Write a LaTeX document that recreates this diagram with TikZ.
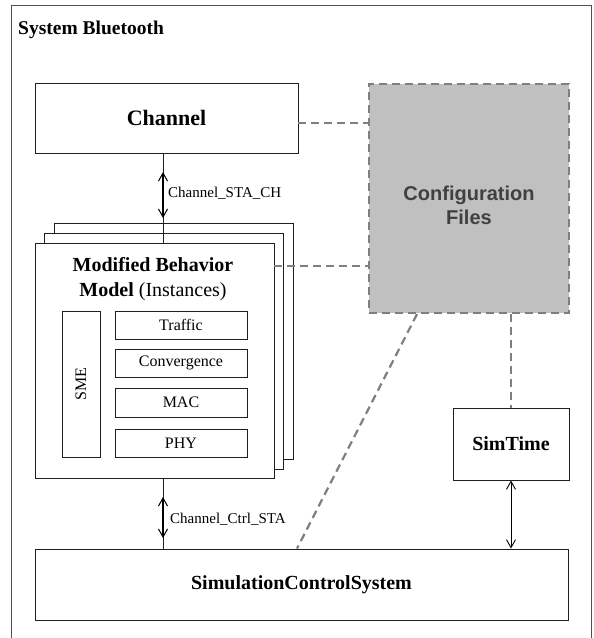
\documentclass[tikz,border=0pt]{standalone}
\usepackage{fontspec}
\setmainfont{Liberation Serif}
\newfontfamily\arialfont{Liberation Sans}
\usetikzlibrary{arrows.meta}
\definecolor{dgray}{HTML}{7F7F7F}
\definecolor{cfgfill}{HTML}{C0C0C0}
\definecolor{cfgtext}{HTML}{404040}
\definecolor{framec}{HTML}{505050}
\begin{document}
\begin{tikzpicture}[x=1pt,y=-1pt,
  box/.style={draw=black!88, line width=0.9pt, fill=white, inner sep=0pt},
  sub/.style={box, minimum width=132pt, minimum height=28pt, font=\fontsize{16}{18}\selectfont},
  big/.style={font=\fontsize{20}{24}\selectfont\bfseries},
  dashln/.style={draw=dgray, line width=2.2pt, dash pattern=on 8pt off 5pt},
  thinln/.style={draw=black!88, line width=0.9pt},
  biarrow/.style={draw=black, line width=1.8pt, {Straight Barb[length=8pt,width=9pt,line width=1pt]}-{Straight Barb[length=8pt,width=9pt,line width=1pt]}},
  thinarrow/.style={draw=black, line width=0.9pt, {Straight Barb[length=8pt,width=9pt]}-{Straight Barb[length=8pt,width=9pt]}},
  lbl/.style={font=\fontsize{15}{17}\selectfont, anchor=west, inner sep=0pt}
]
\useasboundingbox (0,0) rectangle (594,638);
\clip (0,0) rectangle (594,638);
\fill[white] (0,0) rectangle (594,638);
% outer frame
\draw[draw=framec, line width=0.9pt] (11,5) rectangle (591,700);
\node[anchor=west, inner sep=0pt, font=\fontsize{19.5}{22}\selectfont\bfseries] (title) at (18,30) {System Bluetooth};

% Channel
\node[box, minimum width=263pt, minimum height=70pt, font=\fontsize{22}{26}\selectfont\bfseries] (ch) at (166.5,118) {Channel};

% stacked instances
\node[box, minimum width=239pt, minimum height=236pt] (back) at (173.5,341) {};
\node[box, minimum width=239pt, minimum height=236pt] (mid) at (163.5,351) {};
\node[box, minimum width=239pt, minimum height=235pt] (front) at (154.5,360.5) {};
\node[align=center, font=\fontsize{20}{25}\selectfont, inner sep=0pt] (mtitle) at (153,279) {\textbf{Modified Behavior}\\\textbf{Model} (Instances)};

\node[box, minimum width=38pt, minimum height=146pt] (sme) at (81,384) {};
\node[rotate=90, font=\fontsize{16}{18}\selectfont, inner sep=0pt] (smet) at (sme.center) {SME};
\node[sub] (traffic) at (181,325) {Traffic};
\node[sub] (conv) at (181,363) {Convergence};
\node[sub, minimum height=29pt] (mac) at (181,402.5) {MAC};
\node[sub] (phy) at (181,443) {PHY};

% Configuration files
\node[draw=dgray, fill=cfgfill, line width=2.2pt, dash pattern=on 8pt off 5pt, minimum width=200pt, minimum height=229pt, inner sep=0pt] (cfg) at (469,198.5) {};
\node[align=center, text=cfgtext, inner sep=0pt, font=\arialfont\bfseries\fontsize{20}{24}\selectfont] (cfgt) at (469,205) {Configuration\\Files};

% SimTime
\node[box, big, minimum width=116pt, minimum height=72pt] (st) at (511,444) {SimTime};

% SimulationControlSystem
\node[box, big, minimum width=533pt, minimum height=71pt] (scs) at (301.5,584.5) {SimulationControlSystem};

% coordinates
\coordinate (a1) at (163,172);
\coordinate (a2) at (163,218);
\coordinate (b1) at (163,497);
\coordinate (b2) at (163,538);
\coordinate (d1) at (298,123);
\coordinate (e1) at (274,266);
\coordinate (f1) at (417,313);
\coordinate (f2) at (297,549);

% Channel_STA_CH
\draw[thinln] (ch.south -| a1) -- (front.north -| a1);
\draw[biarrow] (a1) -- (a2);
\node[lbl] (l1) at (168,193) {Channel\_STA\_CH};

% Channel_Ctrl_STA
\draw[thinln] (front.south -| b1) -- (scs.north -| b1);
\draw[biarrow] (b1) -- (b2);
\node[lbl] (l2) at (170,519) {Channel\_Ctrl\_STA};

% SimTime arrow
\draw[thinarrow] (st.south) -- (scs.north -| st.south);

% dashed connectors
\draw[dashln] (ch.east |- d1) -- (cfg.west |- d1);
\draw[dashln] (front.east |- e1) -- (cfg.west |- e1);
\draw[dashln] (cfg.south -| f1) -- (scs.north -| f2);
\draw[dashln] (cfg.south -| st.north) -- (st.north);
\end{tikzpicture}
\end{document}
